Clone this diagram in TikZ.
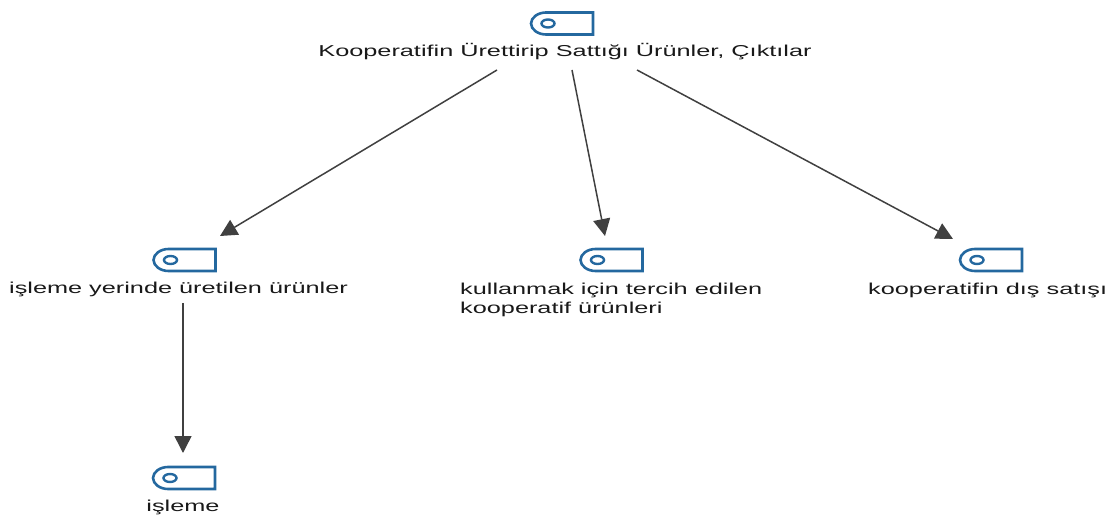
\documentclass[tikz,border=0pt]{standalone}
\usepackage{fontspec}
\setmainfont[FakeStretch=1.6]{Liberation Sans}
\usetikzlibrary{arrows.meta}
\definecolor{iconblue}{HTML}{24689F}
\definecolor{linegray}{HTML}{404040}
\tikzset{
  x=1pt,y=-1pt,
  lbl/.style={inner sep=0pt,font=\fontsize{15.8pt}{19pt}\selectfont,text=black!90,align=left},
  conn/.style={draw=linegray,line width=1.5pt,-{Triangle[length=17pt,width=17pt]}},
  iconshape/.pic={
    \draw[iconblue,line width=2.6pt,line join=miter] (-16,-11) .. controls (-24,-11) and (-31,-6) .. (-31,0) .. controls (-31,6) and (-24,11) .. (-16,11) -- (31,11) -- (31,-11) -- cycle;
    \draw[iconblue,line width=2.4pt] (-14,0) ellipse (6.5 and 4);
  }
}
\begin{document}
\begin{tikzpicture}
\useasboundingbox (0,0) rectangle (1113,518);
\path (562,23.5) pic {iconshape};
\path (184.5,260) pic {iconshape};
\path (611.5,260) pic {iconshape};
\path (991,260) pic {iconshape};
\path (184,478) pic {iconshape};
\node[lbl,anchor=center] (top) at (565,52) {Kooperatifin Ürettirip Sattığı Ürünler, Çıktılar};
\node[lbl,anchor=west] (a) at (9,289) {işleme yerinde üretilen ürünler};
\node[lbl,anchor=north west] (b) at (460,283) {kullanmak için tercih edilen\\kooperatif ürünleri};
\node[lbl,anchor=west] (c) at (868,290) {kooperatifin dış satışı};
\node[lbl,anchor=center] (d) at (183,507) {işleme};
\coordinate (t1) at (497,70); \coordinate (a1) at (220,236);
\coordinate (t2) at (572,70); \coordinate (b1) at (605,236);
\coordinate (t3) at (637,70); \coordinate (c1) at (953,239);
\coordinate (a2) at (183,303); \coordinate (d1) at (183,453);
\draw[conn] (t1)--(a1);
\draw[conn] (t2)--(b1);
\draw[conn] (t3)--(c1);
\draw[conn] (a2)--(d1);
\end{tikzpicture}
\end{document}
